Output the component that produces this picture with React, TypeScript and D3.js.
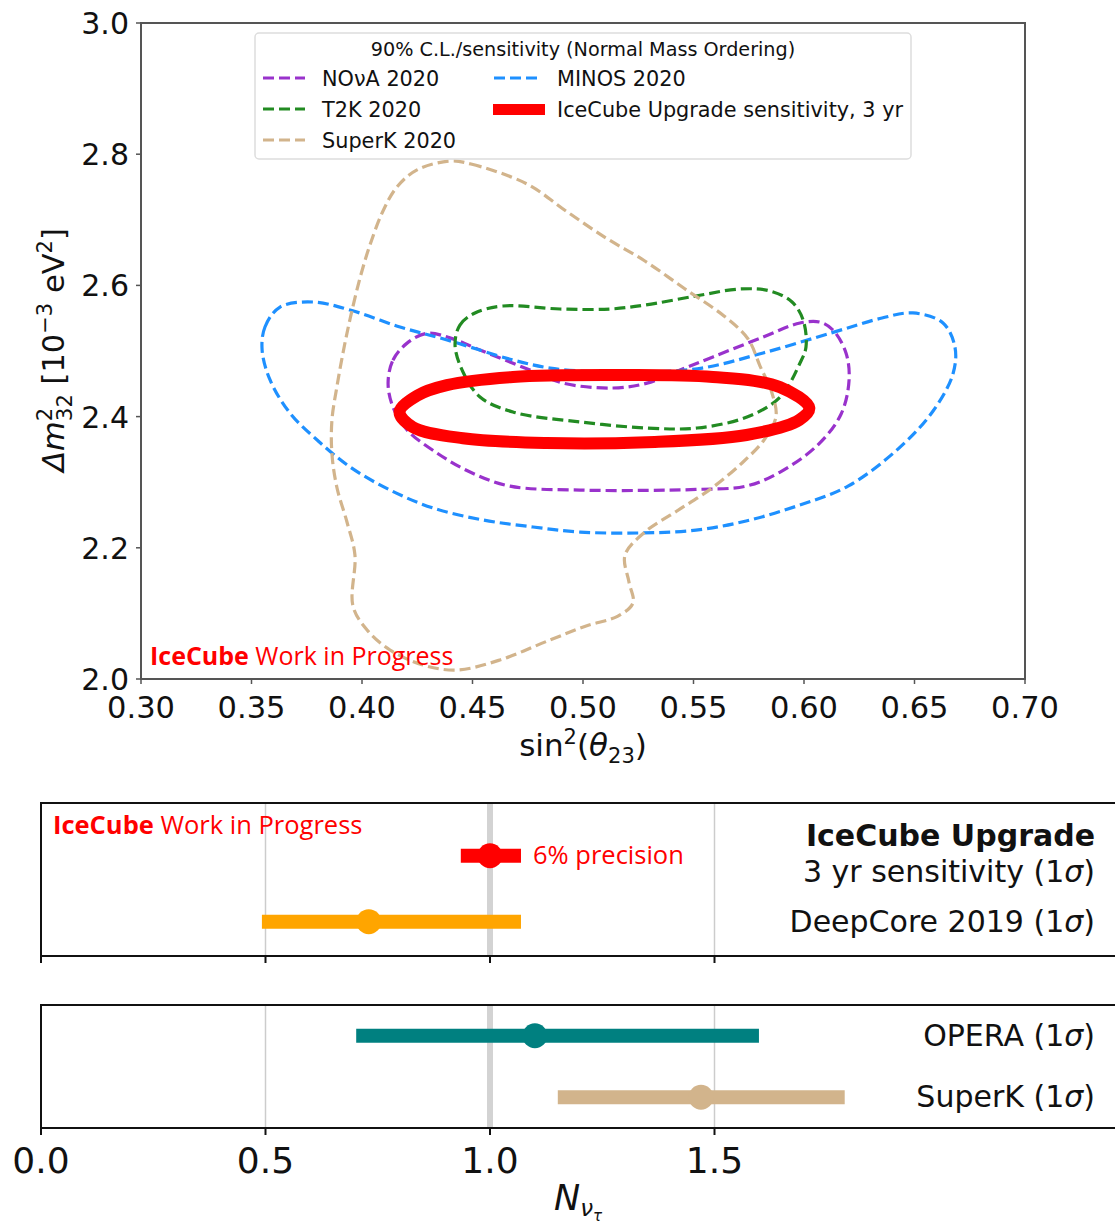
import React from "react";
import * as d3 from "d3";

// ---------- Data: contours (sin^2 theta23, dm^2_32 [1e-3 eV^2]) ----------
const novaContour: [number, number][] = [
  [0.4118, 2.451], [0.414, 2.486], [0.4204, 2.512], [0.4294, 2.527], [0.4398, 2.52],
  [0.4534, 2.5015], [0.476, 2.471], [0.491, 2.451], [0.5136, 2.4436], [0.529, 2.451],
  [0.5439, 2.471], [0.5588, 2.491], [0.5815, 2.5213], [0.5982, 2.5427], [0.6073, 2.544],
  [0.6131, 2.532], [0.619, 2.497], [0.6204, 2.456], [0.6168, 2.404], [0.6063, 2.357],
  [0.5892, 2.3155], [0.5738, 2.294], [0.5511, 2.289], [0.528, 2.2875], [0.4987, 2.288],
  [0.467, 2.294], [0.4489, 2.3155], [0.4339, 2.3445], [0.4204, 2.3796], [0.414, 2.4146],
];
const t2kContour: [number, number][] = [
  [0.4421, 2.509], [0.4443, 2.5396], [0.4511, 2.558], [0.4638, 2.5686], [0.4896, 2.564],
  [0.5122, 2.564], [0.528, 2.57], [0.5511, 2.5838], [0.571, 2.5945], [0.5846, 2.5915],
  [0.5946, 2.5747], [0.5996, 2.5473], [0.6009, 2.506], [0.5982, 2.4817], [0.5892, 2.4299],
  [0.5742, 2.3994], [0.5516, 2.3826], [0.529, 2.3826], [0.4987, 2.3918], [0.4683, 2.407],
  [0.4534, 2.4299], [0.4457, 2.468],
];
const superkContour: [number, number][] = [
  [0.4398, 2.7896], [0.4493, 2.785], [0.4747, 2.7546], [0.4923, 2.7134], [0.5104, 2.6723],
  [0.528, 2.6372], [0.5462, 2.5945], [0.5638, 2.5534], [0.5747, 2.5183], [0.5801, 2.4771],
  [0.5855, 2.436], [0.5873, 2.3994], [0.5819, 2.3643], [0.5729, 2.3323], [0.5584, 2.2912],
  [0.5425, 2.2561], [0.528, 2.224], [0.519, 2.189], [0.5208, 2.1479], [0.5226, 2.1159],
  [0.5158, 2.096], [0.5014, 2.0808], [0.4851, 2.0595], [0.4624, 2.029], [0.443, 2.0137],
  [0.4276, 2.0213], [0.4127, 2.0442], [0.4023, 2.0747], [0.3959, 2.1113], [0.3968, 2.189],
  [0.3932, 2.2393], [0.3887, 2.2912], [0.3864, 2.343], [0.3864, 2.3948], [0.3887, 2.4466],
  [0.3914, 2.497], [0.3946, 2.5488], [0.3991, 2.6113], [0.4036, 2.6616], [0.4095, 2.7134],
  [0.4158, 2.75], [0.4249, 2.776],
];
const minosContour: [number, number][] = [
  [0.3548, 2.5015], [0.3561, 2.5366], [0.3629, 2.567], [0.3778, 2.5747], [0.3946, 2.5625],
  [0.4172, 2.5366], [0.4385, 2.5168], [0.4683, 2.4863], [0.4851, 2.474], [0.5077, 2.468],
  [0.5303, 2.468], [0.5539, 2.474], [0.5815, 2.497], [0.6122, 2.5274], [0.6353, 2.5503],
  [0.6493, 2.558], [0.6629, 2.5427], [0.6683, 2.506], [0.6674, 2.465], [0.6584, 2.4085],
  [0.643, 2.352], [0.6199, 2.294], [0.5968, 2.2637], [0.5738, 2.2409], [0.5511, 2.227],
  [0.5258, 2.2226], [0.4987, 2.224], [0.4774, 2.2317], [0.4548, 2.2424], [0.4321, 2.2607],
  [0.4127, 2.288], [0.3946, 2.3232], [0.3797, 2.3643], [0.3674, 2.4055], [0.3584, 2.4558],
];
const icecubeContour: [number, number][] = [
  [0.417, 2.407], [0.425, 2.432], [0.4384, 2.448], [0.4683, 2.4604], [0.5136, 2.4634],
  [0.5588, 2.4604], [0.5891, 2.445], [0.6024, 2.413], [0.5979, 2.395], [0.574, 2.372],
  [0.5288, 2.361], [0.4835, 2.3598], [0.4457, 2.367], [0.423, 2.384],
];

const contourNames = ["NOνA 2020", "MINOS 2020", "T2K 2020", "SuperK 2020", "IceCube Upgrade sensitivity, 3 yr"];
const contourColors = ["#9932CC", "#1E90FF", "#228B22", "#D2B48C", "#FF0000"];
const contourData = [novaContour, minosContour, t2kContour, superkContour, icecubeContour];

const xTicksTop = [0.3, 0.35, 0.4, 0.45, 0.5, 0.55, 0.6, 0.65, 0.7];
const yTicksTop = [2.0, 2.2, 2.4, 2.6, 2.8, 3.0];

// ---------- Data: N_nutau measurements ----------
const panel1Names = ["IceCube Upgrade", "DeepCore 2019"];
const panel1Center = [1.0, 0.73];
const panel1Low = [0.935, 0.492];
const panel1High = [1.069, 1.069];
const panel1Colors = ["#FF0000", "#FFA500"];

const panel2Names = ["OPERA", "SuperK"];
const panel2Center = [1.1, 1.47];
const panel2Low = [0.702, 1.151];
const panel2High = [1.599, 1.79];
const panel2Colors = ["#008080", "#D2B48C"];

const xTicksBot = [0.0, 0.5, 1.0, 1.5];

const SANS = "DejaVu Sans, sans-serif";
const ALT = "'Open Sans', 'Noto Sans', sans-serif";

export default function App() {
  const W = 1115, H = 1228;
  const x = d3.scaleLinear().domain([0.3, 0.7]).range([141, 1025]);
  const y = d3.scaleLinear().domain([2.0, 3.0]).range([679, 23]);
  const line = d3.line<[number, number]>()
    .x((d) => x(d[0]))
    .y((d) => y(d[1]))
    .curve(d3.curveCatmullRomClosed.alpha(0.5));

  const xb = d3.scaleLinear().domain([0, 2.5]).range([41, 41 + 2.5 * 449]);
  const yp1 = d3.scaleLinear().domain([-0.8, 1.52]).range([803, 956]);
  const yp2 = d3.scaleLinear().domain([-0.5, 1.5]).range([1005, 1128]);

  const legendRows = [
    { i: 0, lx: 263, ly: 78 },
    { i: 2, lx: 263, ly: 109 },
    { i: 3, lx: 263, ly: 140 },
    { i: 1, lx: 494, ly: 78 },
    { i: 4, lx: 494, ly: 109 },
  ];

  const panel = (
    names: string[], center: number[], low: number[], high: number[], colors: string[],
    yp: d3.ScaleLinear<number, number>, top: number, bottom: number
  ) => (
    <g>
      {[0.5, 1.5].map((t) => (
        <line key={t} x1={xb(t)} x2={xb(t)} y1={top} y2={bottom} stroke="#cccccc" strokeWidth={1.5} />
      ))}
      <line x1={xb(1)} x2={xb(1)} y1={top} y2={bottom} stroke="#d3d3d3" strokeWidth={6} />
      {names.map((n, i) => (
        <g key={n}>
          <line x1={xb(low[i])} x2={xb(high[i])} y1={yp(i)} y2={yp(i)} stroke={colors[i]} strokeWidth={14} />
          <circle cx={xb(center[i])} cy={yp(i)} r={12.5} fill={colors[i]} />
        </g>
      ))}
      <rect x={xb(0)} y={top} width={xb(2.5) - xb(0)} height={bottom - top} fill="none" stroke="#111" strokeWidth={2} />
      {xTicksBot.map((t) => (
        <line key={t} x1={xb(t)} x2={xb(t)} y1={bottom} y2={bottom + 7} stroke="#111" strokeWidth={2} />
      ))}
    </g>
  );

  return (
    <svg width={W} height={H} style={{ position: "absolute", left: 0, top: 0, background: "#fff" }}>
      <rect width={W} height={H} fill="#fff" />
      {/* ---------------- Top plot ---------------- */}
      <defs>
        <clipPath id="clipTop">
          <rect x={141} y={23} width={884} height={656} />
        </clipPath>
      </defs>
      <g clipPath="url(#clipTop)">
        {contourData.map((c, i) => (
          <path
            key={i}
            d={line(c) || ""}
            fill="none"
            stroke={contourColors[i]}
            strokeWidth={i === 4 ? 12 : 3.2}
            strokeDasharray={i === 4 ? undefined : "11,5"}
            strokeLinejoin="round"
          />
        ))}
      </g>
      <rect x={141} y={23} width={884} height={656} fill="none" stroke="#555" strokeWidth={2} />
      {xTicksTop.map((t) => (
        <g key={t}>
          <line x1={x(t)} x2={x(t)} y1={679} y2={684} stroke="#555" strokeWidth={1.5} />
          <text x={x(t)} y={718} textAnchor="middle" fontFamily={SANS} fontSize={30.5} fill="#111">
            {t.toFixed(2)}
          </text>
        </g>
      ))}
      {yTicksTop.map((t) => (
        <g key={t}>
          <line x1={136} x2={141} y1={y(t)} y2={y(t)} stroke="#555" strokeWidth={1.5} />
          <text x={129} y={y(t) + 11} textAnchor="end" fontFamily={SANS} fontSize={30} fill="#111">
            {t.toFixed(1)}
          </text>
        </g>
      ))}
      {/* x label */}
      <text x={583} y={756} textAnchor="middle" fontFamily={SANS} fontSize={31} fill="#111">
        sin<tspan fontSize={21} dy={-12}>2</tspan>
        <tspan dy={12}>(</tspan>
        <tspan fontStyle="italic">θ</tspan>
        <tspan fontSize={21} dy={7}>23</tspan>
        <tspan dy={-7}>)</tspan>
      </text>
      {/* y label */}
      <text transform="translate(64,350) rotate(-90)" textAnchor="middle" fontFamily={SANS} fontSize={30.5} fill="#111">
        <tspan fontStyle="italic">Δm</tspan>
        <tspan fontSize={21} dy={-12}>2</tspan>
        <tspan fontSize={21} dx={-13} dy={20}>32</tspan>
        <tspan dy={-8}> [10</tspan>
        <tspan fontSize={21} dy={-12}>−3</tspan>
        <tspan dy={12}> eV</tspan>
        <tspan fontSize={21} dy={-12}>2</tspan>
        <tspan dy={12}>]</tspan>
      </text>
      {/* legend */}
      <rect x={255} y={33} width={656} height={126} rx={4} fill="#fff" fillOpacity={0.8} stroke="#dddddd" strokeWidth={1.5} />
      <text x={583} y={56} textAnchor="middle" fontFamily={SANS} fontSize={19.2} fill="#111">
        90% C.L./sensitivity (Normal Mass Ordering)
      </text>
      {legendRows.map((r) => (
        <g key={r.i}>
          {r.i === 4 ? (
            <rect x={r.lx - 1} y={r.ly - 5} width={52} height={11} fill={contourColors[r.i]} />
          ) : (
            <line x1={r.lx} x2={r.lx + (r.lx > 400 ? 47 : 42)} y1={r.ly} y2={r.ly} stroke={contourColors[r.i]} strokeWidth={3.2} strokeDasharray="11,5" />
          )}
          <text x={r.lx + (r.lx > 400 ? 63 : 59)} y={r.ly + 7.5} fontFamily={SANS} fontSize={20.8} fill="#111">
            {contourNames[r.i]}
          </text>
        </g>
      ))}
      <text x={150} y={665} fontFamily={ALT} fontSize={25} fill="#FF0000">
        <tspan fontWeight="bold">IceCube</tspan> Work in Progress
      </text>

      {/* ---------------- Bottom panels ---------------- */}
      {panel(panel1Names, panel1Center, panel1Low, panel1High, panel1Colors, yp1, 803, 956)}
      {panel(panel2Names, panel2Center, panel2Low, panel2High, panel2Colors, yp2, 1005, 1128)}

      <text x={53} y={834} fontFamily={ALT} fontSize={25.5} fill="#FF0000">
        <tspan fontWeight="bold">IceCube</tspan> Work in Progress
      </text>
      <text x={533} y={864} fontFamily={ALT} fontSize={25.5} fill="#FF0000">6% precision</text>

      <text x={1095} y={yp1(0) - 10} textAnchor="end" fontFamily={SANS} fontSize={30} fontWeight="bold" fill="#111">
        {panel1Names[0]}
      </text>
      <text x={1095} y={yp1(0) + 26} textAnchor="end" fontFamily={SANS} fontSize={30} fill="#111">
        3 yr sensitivity (1<tspan fontStyle="italic">σ</tspan>)
      </text>
      <text x={1095} y={yp1(1) + 10} textAnchor="end" fontFamily={SANS} fontSize={30} fill="#111">
        {panel1Names[1]} (1<tspan fontStyle="italic">σ</tspan>)
      </text>
      {panel2Names.map((n, i) => (
        <text key={n} x={1095} y={yp2(i) + 10} textAnchor="end" fontFamily={SANS} fontSize={30} fill="#111">
          {n} (1<tspan fontStyle="italic">σ</tspan>)
        </text>
      ))}

      {xTicksBot.map((t) => (
        <text key={t} x={xb(t)} y={1173} textAnchor="middle" fontFamily={SANS} fontSize={36} fill="#111">
          {t.toFixed(1)}
        </text>
      ))}
      <text x={578} y={1210} textAnchor="middle" fontFamily={SANS} fontSize={35} fill="#111">
        <tspan fontStyle="italic">N</tspan>
        <tspan fontStyle="italic" fontSize={23} dy={6}>ν</tspan>
        <tspan fontStyle="italic" fontSize={15} dy={5}>τ</tspan>
      </text>
    </svg>
  );
}
